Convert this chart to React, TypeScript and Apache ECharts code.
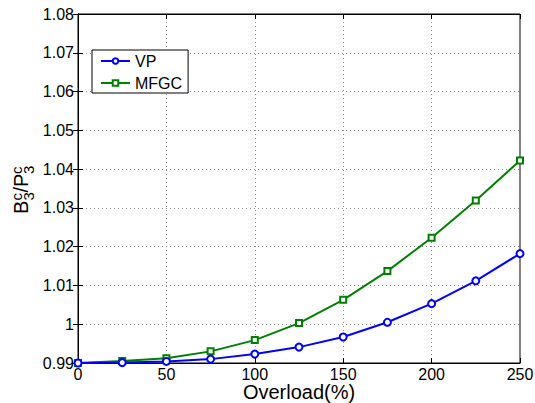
import React, { useEffect, useRef } from "react";
import * as echarts from "echarts";

const overload = [0, 25, 50, 75, 100, 125, 150, 175, 200, 225, 250];
const vpValues = [0.99, 0.9901, 0.9904, 0.991, 0.9923, 0.9941, 0.9967, 1.0005, 1.0053, 1.0112, 1.0182];
const mfgcValues = [0.99, 0.9905, 0.9912, 0.993, 0.9959, 1.0003, 1.0063, 1.0137, 1.0223, 1.0319, 1.0422];
const seriesNames = ["VP", "MFGC"];

const FONT = "'Liberation Sans', Arial, Helvetica, sans-serif";

export default function App() {
  const ref = useRef<HTMLDivElement>(null);
  useEffect(() => {
    if (!ref.current) return;
    const chart = echarts.init(ref.current, null, { renderer: "svg" });
    const fmtY = (v: number) => parseFloat(v.toFixed(2)).toString();
    const tickStyle = { show: true, inside: true, length: 5, lineStyle: { color: "#000", width: 1 } };
    const splitStyle = { show: true, lineStyle: { color: "#8a8a8a", type: [1, 3] as any, width: 1 } };
    const big = `20px ${FONT}`;
    const small = `15px ${FONT}`;
    chart.setOption({
      animation: false,
      backgroundColor: "#fff",
      grid: {
        left: 78, right: 15, top: 14, bottom: 40,
        outerBoundsMode: "none",
        containLabel: false,
        show: true, borderColor: "#000", borderWidth: 1, backgroundColor: "transparent",
      },
      legend: {
        left: 92,
        top: 50,
        orient: "vertical",
        backgroundColor: "#fff",
        borderColor: "#000",
        borderWidth: 1,
        borderRadius: 0,
        padding: [3, 6, 2, 8],
        itemGap: 6,
        itemWidth: 29,
        itemHeight: 7,
        textStyle: { fontFamily: FONT, fontSize: 16, color: "#000", lineHeight: 16 },
        data: seriesNames,
      },
      xAxis: [
        {
          type: "value",
          min: 0,
          max: 250,
          interval: 50,
          name: "Overload(%)",
          nameLocation: "middle",
          nameGap: 20,
          nameMoveOverlap: false,
          nameTextStyle: { fontFamily: FONT, fontSize: 20, color: "#000", lineHeight: 18 },
          axisLine: { show: true, lineStyle: { color: "#000" } },
          axisTick: tickStyle,
          axisLabel: { fontFamily: FONT, fontSize: 16, color: "#000", margin: 4, lineHeight: 15 },
          splitLine: splitStyle,
        },
        {
          type: "value",
          position: "top",
          min: 0,
          max: 250,
          interval: 50,
          axisLine: { show: true, lineStyle: { color: "#000" } },
          axisTick: tickStyle,
          axisLabel: { show: false },
          splitLine: { show: false },
        },
      ],
      yAxis: [
        {
          type: "value",
          min: 0.99,
          max: 1.08,
          interval: 0.01,
          axisLine: { show: true, lineStyle: { color: "#000" } },
          axisTick: tickStyle,
          axisLabel: { fontFamily: FONT, fontSize: 16, color: "#000", margin: 4, formatter: fmtY },
          splitLine: splitStyle,
        },
        {
          type: "value",
          position: "right",
          min: 0.99,
          max: 1.08,
          interval: 0.01,
          axisLine: { show: true, lineStyle: { color: "#000" } },
          axisTick: tickStyle,
          axisLabel: { show: false },
          splitLine: { show: false },
        },
      ],
      graphic: [
        {
          type: "group",
          x: 21,
          y: 214,
          rotation: Math.PI / 2,
          children: [
            { type: "text", x: 0, y: 0, style: { text: "B", font: big, fill: "#000", textVerticalAlign: "middle" } },
            { type: "text", x: 13.5, y: -5, style: { text: "c", font: small, fill: "#000", textVerticalAlign: "middle" } },
            { type: "text", x: 13.5, y: 7, style: { text: "3", font: small, fill: "#000", textVerticalAlign: "middle" } },
            { type: "text", x: 21.5, y: 0, style: { text: "/P", font: big, fill: "#000", textVerticalAlign: "middle" } },
            { type: "text", x: 40, y: -5, style: { text: "c", font: small, fill: "#000", textVerticalAlign: "middle" } },
            { type: "text", x: 40, y: 7, style: { text: "3", font: small, fill: "#000", textVerticalAlign: "middle" } },
          ],
        },
      ],
      series: [
        {
          name: seriesNames[0],
          type: "line",
          data: overload.map((x, i) => [x, vpValues[i]]),
          color: "#0000ff",
          lineStyle: { width: 2, color: "#0000ff" },
          symbol: "emptyCircle",
          symbolSize: 7,
          itemStyle: { color: "#0000ff", borderWidth: 1.5 },
          z: 3,
        },
        {
          name: seriesNames[1],
          type: "line",
          data: overload.map((x, i) => [x, mfgcValues[i]]),
          color: "#008000",
          lineStyle: { width: 2, color: "#008000" },
          symbol: "emptyRect",
          symbolSize: 6,
          itemStyle: { color: "#008000", borderWidth: 1.5 },
          z: 2,
        },
      ],
    });
    return () => chart.dispose();
  }, []);
  return <div ref={ref} style={{ width: 535, height: 403, position: "absolute", left: 0, top: 0 }} />;
}
